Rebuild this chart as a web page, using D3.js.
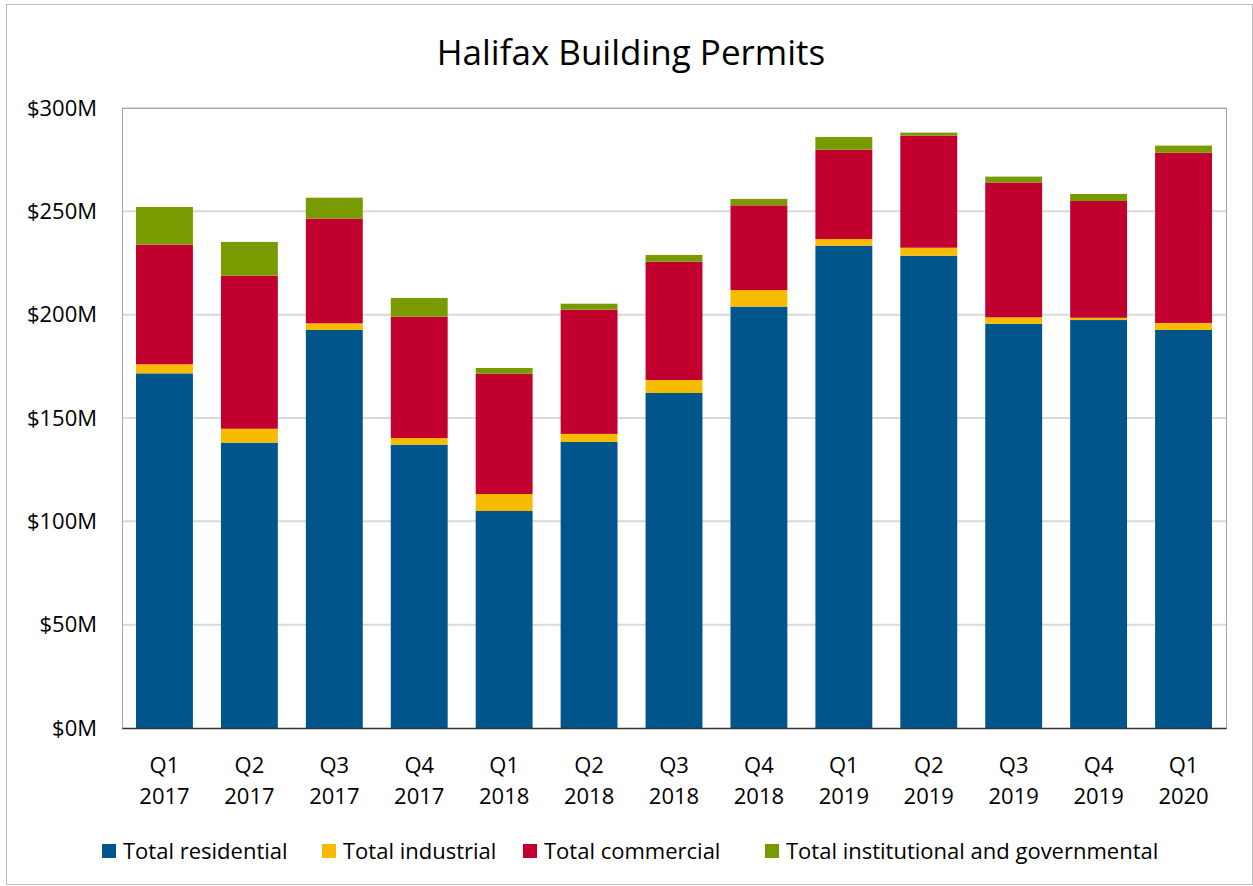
<!DOCTYPE html>
<html>
<head>
<meta charset="utf-8">
<script src="https://cdn.jsdelivr.net/npm/d3@7"></script>
<style>
  body { margin: 0; background: #fff; }
  text { font-family: "Open Sans", "Noto Sans", sans-serif; fill: #000; }
</style>
</head>
<body>
<svg width="1253" height="886"></svg>
<script>
var quarters = ["Q1", "Q2", "Q3", "Q4", "Q1", "Q2", "Q3", "Q4", "Q1", "Q2", "Q3", "Q4", "Q1"];
var years = ["2017", "2017", "2017", "2017", "2018", "2018", "2018", "2018", "2019", "2019", "2019", "2019", "2020"];

// values in $M
var residential = [171.6, 138.1, 192.6, 137.1, 105.0, 138.4, 162.1, 203.9, 233.4, 228.5, 195.6, 197.4, 192.6];
var industrial = [4.4, 6.7, 3.2, 3.2, 8.2, 3.9, 6.3, 8.0, 3.2, 3.9, 3.1, 1.1, 3.4];
var commercial = [57.9, 74.1, 50.7, 58.7, 58.2, 60.1, 57.2, 41.0, 43.2, 54.2, 65.3, 56.5, 82.4];
var institutional = [18.2, 16.3, 10.1, 9.1, 2.8, 2.9, 3.3, 3.1, 6.2, 1.5, 2.8, 3.4, 3.4];

var seriesNames = ["Total residential", "Total industrial", "Total commercial", "Total institutional and governmental"];
var colors = ["#00558b", "#f7bc00", "#c20030", "#7a9a01"];
var yTicks = [0, 50, 100, 150, 200, 250, 300];

var svg = d3.select("svg"),
    margin = { top: 108, right: 27, bottom: 158, left: 122 },
    width = +svg.attr("width") - margin.left - margin.right,
    height = +svg.attr("height") - margin.top - margin.bottom;

// outer chart border
svg.append("rect")
    .attr("x", 6.5).attr("y", 4.5)
    .attr("width", 1253 - 7).attr("height", 886 - 6)
    .attr("fill", "none")
    .attr("stroke", "#bdbdbd");

svg.append("text")
    .attr("x", 631)
    .attr("y", 65)
    .attr("text-anchor", "middle")
    .style("font-size", "35px")
    .text("Halifax Building Permits");

var g = svg.append("g").attr("transform", "translate(" + margin.left + "," + margin.top + ")");

var data = quarters.map(function(q, i) {
    return {
        key: i,
        label: [q, years[i]],
        "Total residential": residential[i],
        "Total industrial": industrial[i],
        "Total commercial": commercial[i],
        "Total institutional and governmental": institutional[i]
    };
});

var x = d3.scaleBand()
    .domain(data.map(d => d.key))
    .range([0, width])
    .paddingInner(0.33)
    .paddingOuter(0.165);

var y = d3.scaleLinear()
    .domain([0, 300])
    .range([height, 0]);

var color = d3.scaleOrdinal().domain(seriesNames).range(colors);

// gridlines
g.append("g")
    .selectAll("line")
    .data(yTicks.slice(1))
    .enter().append("line")
    .attr("x1", 0).attr("x2", width)
    .attr("y1", d => y(d)).attr("y2", d => y(d))
    .attr("stroke", "#d9d9d9")
    .attr("stroke-width", 2);

// plot area border
g.append("rect")
    .attr("x", 0.5).attr("y", 0.5)
    .attr("width", width).attr("height", height)
    .attr("fill", "none")
    .attr("stroke", "#a6a6a6");

var stacked = d3.stack().keys(seriesNames)(data);

g.append("g")
    .selectAll("g")
    .data(stacked)
    .enter().append("g")
    .attr("fill", d => color(d.key))
    .selectAll("rect")
    .data(d => d)
    .enter().append("rect")
    .attr("x", d => x(d.data.key))
    .attr("y", d => y(d[1]))
    .attr("height", d => y(d[0]) - y(d[1]))
    .attr("width", x.bandwidth());

// y axis
var yAxis = g.append("g")
    .call(d3.axisLeft(y).tickValues(yTicks).tickFormat(d => "$" + d + "M").tickSize(0).tickPadding(25));
yAxis.select(".domain").remove();
yAxis.selectAll("text").style("font-size", "22px").attr("fill", "#000");

// x axis
var xAxis = g.append("g")
    .attr("transform", "translate(0," + height + ")")
    .call(d3.axisBottom(x).tickSize(0).tickFormat(""));
xAxis.select(".domain").attr("stroke", "#333").attr("stroke-width", 1.5);
xAxis.selectAll(".tick").each(function(d) {
    var t = d3.select(this).append("text")
        .attr("text-anchor", "middle")
        .style("font-size", "22px");
    t.append("tspan").attr("x", 0).attr("y", 45).text(data[d].label[0]);
    t.append("tspan").attr("x", 0).attr("y", 76).text(data[d].label[1]);
});

// legend
var legendX = [102, 322, 523, 765];
var legend = svg.append("g")
    .selectAll("g")
    .data(seriesNames)
    .enter().append("g")
    .attr("transform", (d, i) => "translate(" + legendX[i] + ",844)");
legend.append("rect")
    .attr("width", 14).attr("height", 14)
    .attr("fill", d => color(d));
legend.append("text")
    .attr("x", 21).attr("y", 15)
    .style("font-size", "22px")
    .text(d => d);
</script>
</body>
</html>
